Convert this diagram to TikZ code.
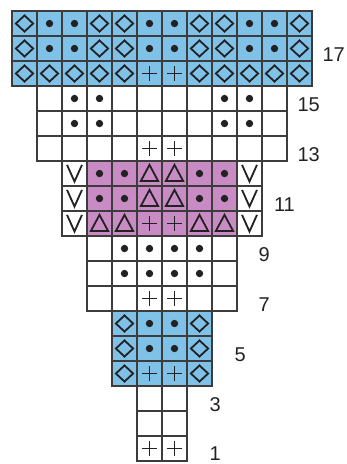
\documentclass[tikz,border=0pt]{standalone}
\usepackage{fontspec}
\setmainfont{Liberation Sans}
\definecolor{colb}{HTML}{80C1E8}
\definecolor{colp}{HTML}{C98BC3}
\definecolor{colw}{HTML}{FFFFFF}
\definecolor{ink}{HTML}{222222}
\definecolor{gridc}{HTML}{3C3C3C}
\def\kparse#1#2\relax{\def\kf{#1}\def\ks{#2}}
\tikzset{
  gridline/.style={draw=gridc, line width=1.5pt},
  symline/.style={draw=ink, line width=1.8pt, line join=miter},
  rowlabel/.style={anchor=east, font=\fontsize{20}{24}\selectfont, text=ink, inner sep=0pt},
}
\def\kD{\draw[symline] (-7.5,0)--(0,-7)--(7.5,0)--(0,7)--cycle;}
\def\kO{\fill[ink] (0,0) circle (3.2pt);}
\def\kP{\draw[symline] (-6.5,0)--(6.5,0) (0,-6.5)--(0,6.5);}
\def\kT{\draw[symline] (-7.5,6.5)--(0,-7.5)--(7.5,6.5)--cycle;}
\def\kV{\draw[symline] (-6.5,-7.5)--(0,7)--(6.5,-7.5);}
\def\kN{}
\def\rowsdata{%
0/0/{bD,bO,bO,bD,bD,bO,bO,bD,bD,bO,bO,bD},
1/0/{bD,bO,bO,bD,bD,bO,bO,bD,bD,bO,bO,bD},
2/0/{bD,bD,bD,bD,bD,bP,bP,bD,bD,bD,bD,bD},
3/1/{wN,wO,wO,wN,wN,wN,wN,wO,wO,wN},
4/1/{wN,wO,wO,wN,wN,wN,wN,wO,wO,wN},
5/1/{wN,wN,wN,wN,wP,wP,wN,wN,wN,wN},
6/2/{wV,pO,pO,pT,pT,pO,pO,wV},
7/2/{wV,pO,pO,pT,pT,pO,pO,wV},
8/2/{wV,pT,pT,pP,pP,pT,pT,wV},
9/3/{wN,wO,wO,wO,wO,wN},
10/3/{wN,wO,wO,wO,wO,wN},
11/3/{wN,wN,wP,wP,wN,wN},
12/4/{bD,bO,bO,bD},
13/4/{bD,bO,bO,bD},
14/4/{bD,bP,bP,bD},
15/5/{wN,wN},
16/5/{wN,wN},
17/5/{wP,wP}}
\begin{document}
\begin{tikzpicture}[x=1pt,y=-1pt]
\useasboundingbox (0,0) rectangle (347,464);
% fills and symbols
\foreach \r/\c/\cells in \rowsdata {
  \foreach \s [count=\i from 0] in \cells {
    \expandafter\kparse\s\relax
    \fill[fill=col\kf] ({12+25*(\c+\i)},{11+25*\r}) rectangle ++(25,25);
    \begin{scope}[shift={({24.5+25*(\c+\i)},{23.5+25*\r})}, scale=1.15]
      \csname k\ks\endcsname
    \end{scope}
  }
}
% grid lines
\foreach \r/\c/\cells in \rowsdata {
  \foreach \s [count=\i from 0] in \cells {
    \draw[gridline] ({12+25*(\c+\i)},{11+25*\r}) rectangle ++(25,25);
  }
}
% row labels
\node[rowlabel] (l17) at (345,54.5) {17};
\node[rowlabel] (l15) at (320,104.5) {15};
\node[rowlabel] (l13) at (320,154.5) {13};
\node[rowlabel] (l11) at (295,204.5) {11};
\node[rowlabel] (l9) at (270,254.5) {9};
\node[rowlabel] (l7) at (270,304.5) {7};
\node[rowlabel] (l5) at (246,354.5) {5};
\node[rowlabel] (l3) at (221,404.5) {3};
\node[rowlabel] (l1) at (221,453.5) {1};
\end{tikzpicture}
\end{document}
